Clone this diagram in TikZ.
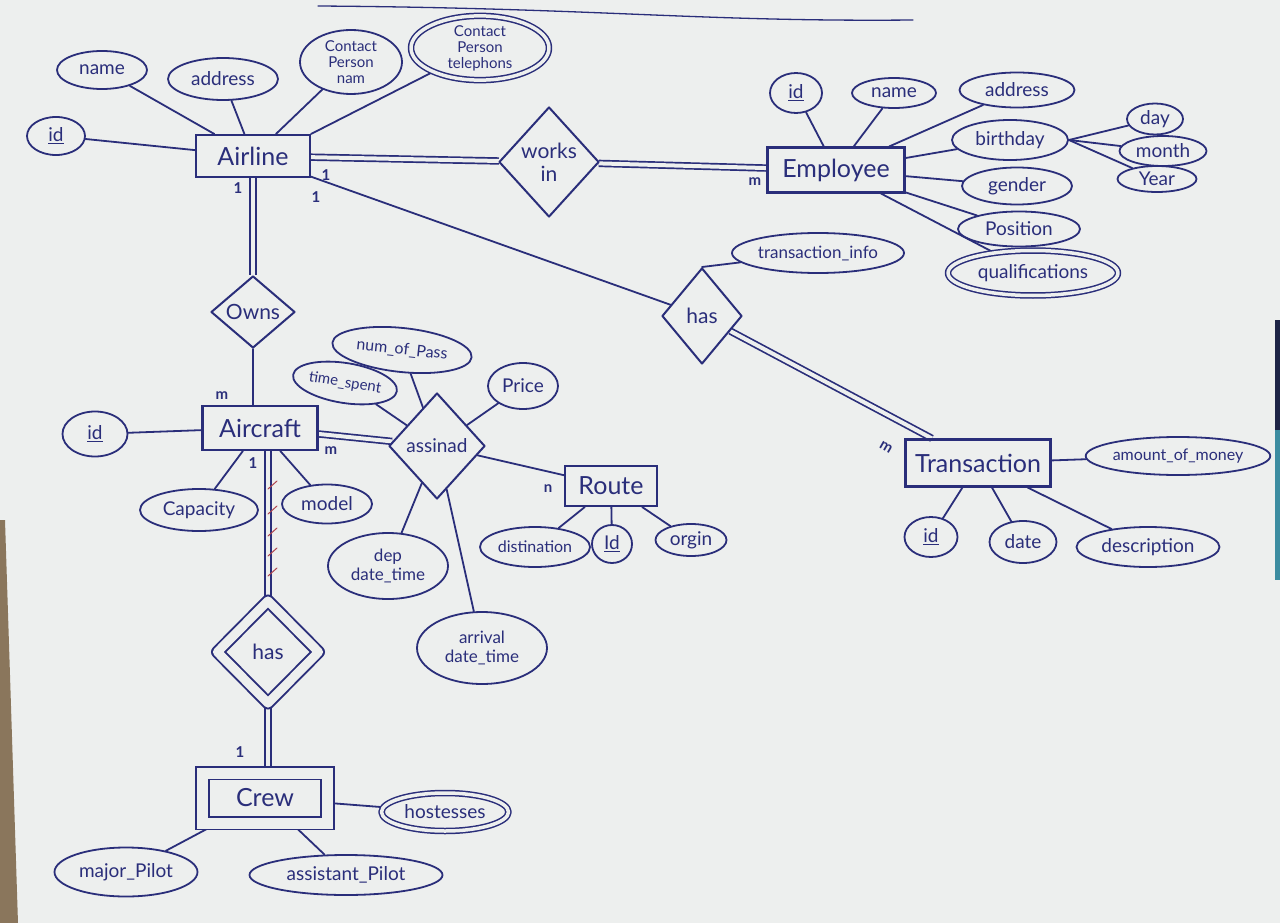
\documentclass[tikz,border=0pt]{standalone}
\usepackage{fontspec}
\setmainfont{Lato}
\usetikzlibrary{shapes.geometric,backgrounds}

\definecolor{ink}{RGB}{42,46,122}
\definecolor{paper}{RGB}{237,239,238}
\definecolor{redink}{RGB}{176,70,80}
\definecolor{desk}{RGB}{138,118,92}
\definecolor{edgeblue}{RGB}{60,140,160}
\definecolor{edgenavy}{RGB}{30,36,70}

\begin{document}
\begin{tikzpicture}[x=1pt,y=-1pt,line join=round,
  every node/.style={text=ink,inner sep=0pt,align=center},
  ent/.style={draw=ink,line width=2.1pt,line join=miter,rectangle,font=\fontsize{25}{27}\selectfont},
  attr/.style={draw=ink,line width=1.8pt,ellipse,font=\fontsize{19}{21}\selectfont},
  smallattr/.style={attr,font=\fontsize{15}{16}\selectfont},
  rel/.style={draw=ink,line width=2pt,diamond,font=\fontsize{21}{23}\selectfont},
  multi/.style={double=paper,double distance=3.5pt,line width=1.5pt},
  weak/.style={double=paper,double distance=#1,line width=1.9pt},
  ln/.style={draw=ink,line width=1.8pt,line cap=round},
  dbl/.style={draw=ink,line width=1.7pt,double=paper,double distance=4pt,line cap=butt},
  card/.style={font=\fontsize{15}{15}\selectfont\bfseries},
  tick/.style={draw=redink,line width=1pt,line cap=round}]

\useasboundingbox (0,0) rectangle (1280,923);

% ---------- Airline ----------
\node[ent,minimum width=114pt,minimum height=42pt] (airline) at (253,156) {Airline};
\node[attr,minimum width=58pt,minimum height=38pt] (aid) at (56,136) {\underline{id}};
\node[attr,minimum width=90pt,minimum height=38pt] (aname) at (102,70) {name};
\node[attr,minimum width=110pt,minimum height=42pt] (aaddr) at (223,79) {address};
\node[smallattr,minimum width=102pt,minimum height=64pt] (acpn) at (351,62) {Contact\\Person\\nam};
\node[smallattr,multi,minimum width=138pt,minimum height=60pt] (acpt) at (480,48) {Contact\\Person\\telephons};

% ---------- works in / Employee ----------
\node[rel,minimum width=100pt,minimum height=110pt] (works) at (549,162) {works\\in};
\node[ent,minimum width=137pt,minimum height=45pt] (employee) at (836,170) {Employee};
\node[attr,minimum width=52pt,minimum height=40pt] (eid) at (796,93) {\underline{id}};
\node[attr,minimum width=84pt,minimum height=30pt] (ename) at (894,93) {name};
\node[attr,minimum width=115pt,minimum height=35pt] (eaddr) at (1017,90) {address};
\node[attr,minimum width=116pt,minimum height=40pt] (ebirth) at (1010,140) {birthday};
\node[attr,minimum width=110pt,minimum height=37pt] (egender) at (1017,186) {gender};
\node[attr,minimum width=122pt,minimum height=35pt] (epos) at (1019,229) {Position};
\node[attr,multi,minimum width=170pt,minimum height=45pt] (equal) at (1033,273) {qualifications};
\node[attr,minimum width=56pt,minimum height=31pt] (eday) at (1155,119) {day};
\node[attr,minimum width=87pt,minimum height=30pt] (emonth) at (1163,151) {month};
\node[attr,minimum width=79pt,minimum height=26pt] (eyear) at (1157,179) {Year};

% ---------- has / Transaction ----------
\node[rel,minimum width=80pt,minimum height=96pt] (hastr) at (702,316) {has};
\node[smallattr,minimum width=172pt,minimum height=40pt,font=\fontsize{17}{18}\selectfont] (tinfo) at (818,253) {transaction\_info};
\node[ent,minimum width=145pt,minimum height=47pt] (trans) at (978,463) {Transaction};
\node[smallattr,minimum width=169pt,minimum height=38pt,font=\fontsize{16}{17}\selectfont] (tamount) at (1178,456) {amount\_of\_money};
\node[attr,minimum width=53pt,minimum height=40pt] (tid) at (931,537) {\underline{id}};
\node[attr,minimum width=67pt,minimum height=42pt] (tdate) at (1023,542) {date};
\node[attr,minimum width=143pt,minimum height=40pt] (tdesc) at (1148,547) {description};

% ---------- Owns / Aircraft ----------
\node[rel,minimum width=84pt,minimum height=72pt] (owns) at (253,312) {Owns};
\node[ent,minimum width=115pt,minimum height=44pt] (aircraft) at (260,428) {Aircraft};
\node[attr,minimum width=65pt,minimum height=45pt] (cid) at (95,434) {\underline{id}};
\node[attr,minimum width=118pt,minimum height=42pt] (ccap) at (199,510) {Capacity};
\node[attr,minimum width=90pt,minimum height=39pt] (cmodel) at (327,504) {model};

% ---------- assinad / Route ----------
\node[rel,minimum width=96pt,minimum height=106pt,font=\fontsize{19}{21}\selectfont] (assinad) at (437,446) {assinad};
\node[smallattr,minimum width=140pt,minimum height=44pt,rotate=-6,font=\fontsize{16}{17}\selectfont] (pass) at (402,350) {num\_of\_Pass};
\node[smallattr,minimum width=105pt,minimum height=40pt,rotate=-9,font=\fontsize{15}{16}\selectfont] (spent) at (345,383) {time\_spent};
\node[attr,minimum width=70pt,minimum height=46pt] (price) at (523,386) {Price};
\node[attr,minimum width=120pt,minimum height=66pt,font=\fontsize{17}{19}\selectfont] (dep) at (388,566) {dep\\date\_time};
\node[attr,minimum width=130pt,minimum height=72pt,font=\fontsize{17}{19}\selectfont] (arr) at (482,648) {arrival\\date\_time};
\node[ent,minimum width=92pt,minimum height=40pt] (route) at (611,486) {Route};
\node[attr,minimum width=110pt,minimum height=40pt,font=\fontsize{16}{17}\selectfont] (rdist) at (535,547) {distination};
\node[attr,minimum width=40pt,minimum height=38pt] (rid) at (612,544) {\underline{Id}};
\node[attr,minimum width=71pt,minimum height=32pt] (rorig) at (691,540) {orgin};

% ---------- has / Crew ----------
\node[rel,weak=9pt,minimum width=102pt,minimum height=103pt] (hascrew) at (268,652) {has};
\node[ent,weak=11pt,minimum width=125pt,minimum height=50pt] (crew) at (265,798) {Crew};
\node[attr,multi,minimum width=127pt,minimum height=38pt] (chost) at (445,812) {hostesses};
\node[attr,minimum width=143pt,minimum height=49pt] (cmajor) at (126,872) {major\_Pilot};
\node[attr,minimum width=193pt,minimum height=40pt] (cassist) at (346,875) {assistant\_Pilot};

% ---------- cardinalities ----------
\node[card] (k1) at (238,188) {1};
\node[card] (k2) at (326,175) {1};
\node[card] (k3) at (316,197) {1};
\node[card] (k4) at (755,182) {m};
\node[card,rotate=-30] (k5) at (886,447) {m};
\node[card] (k6) at (222,396) {m};
\node[card] (k7) at (331,451) {m};
\node[card] (k8) at (253,463) {1};
\node[card] (k9) at (548,489) {n};
\node[card] (k10) at (240,752) {1};

% stray pen stroke along the top
\coordinate (topa) at (318,6);
\coordinate (topb) at (913,20);

\begin{scope}[on background layer]
  % sheet of paper and its edges
  \fill[paper] (0,0) rectangle (1280,923);
  \fill[desk] (0,520) -- (5,520) -- (18,923) -- (0,923) -- cycle;
  \fill[edgenavy] (1275,320) rectangle (1280,430);
  \fill[edgeblue] (1275,430) rectangle (1280,580);
  \draw[ln,line width=1.3pt] (topa) .. controls (600,8) and (700,22) .. (topb);

  % Airline
  \draw[ln] (aid) -- (airline);
  \draw[ln] (aname) -- (airline);
  \draw[ln] (aaddr) -- (airline);
  \draw[ln] (acpn) -- (airline);
  \draw[ln] (acpt) -- (airline.north east);
  \draw[dbl] (airline) -- (works);
  \draw[dbl] (works) -- (employee);
  \draw[ln] (airline) -- (hastr);
  \draw[dbl] (owns.north |- airline.south) -- (owns.north);
  \draw[ln] (owns.south) -- (owns.south |- aircraft.north);

  % Employee
  \draw[ln] (employee) -- (eid);
  \draw[ln] (employee) -- (ename);
  \draw[ln] (employee) -- (eaddr);
  \draw[ln] (employee) -- (ebirth);
  \draw[ln] (employee) -- (egender);
  \draw[ln] (employee) -- (epos);
  \draw[ln] (employee) -- (equal);
  \draw[ln] (ebirth.east) -- (eday);
  \draw[ln] (ebirth.east) -- (emonth);
  \draw[ln] (ebirth.east) -- (eyear);

  % Transaction
  \draw[ln] (hastr.north) -- (tinfo);
  \draw[dbl] (hastr) -- (trans);
  \draw[ln] (trans) -- (tamount);
  \draw[ln] (trans) -- (tid);
  \draw[ln] (trans) -- (tdate);
  \draw[ln] (trans) -- (tdesc);

  % Aircraft
  \draw[ln] (cid) -- (aircraft);
  \draw[ln] (ccap) -- (aircraft);
  \draw[ln] (cmodel) -- (aircraft);
  \draw[dbl] (aircraft) -- (assinad);
  \draw[dbl] (hascrew.north |- aircraft.south) -- (hascrew.north);
  \draw[dbl] (hascrew.south) -- (hascrew.south |- crew.north);

  % assinad
  \draw[ln] (assinad) -- (pass);
  \draw[ln] (assinad) -- (spent);
  \draw[ln] (assinad) -- (price);
  \draw[ln] (assinad) -- (dep);
  \draw[ln] (assinad) -- (arr);
  \draw[ln] (assinad) -- (route);
  \draw[ln] (route) -- (rdist);
  \draw[ln] (route) -- (rid);
  \draw[ln] (route) -- (rorig);

  % Crew
  \draw[ln] (crew) -- (chost);
  \draw[ln] (crew) -- (cmajor);
  \draw[ln] (crew) -- (cassist);
\end{scope}

% red tick marks across the Aircraft--has line
\foreach \yy in {485,510,532,552,572}
  \draw[tick] (268,\yy+4) -- (277,\yy-4);

\end{tikzpicture}
\end{document}
